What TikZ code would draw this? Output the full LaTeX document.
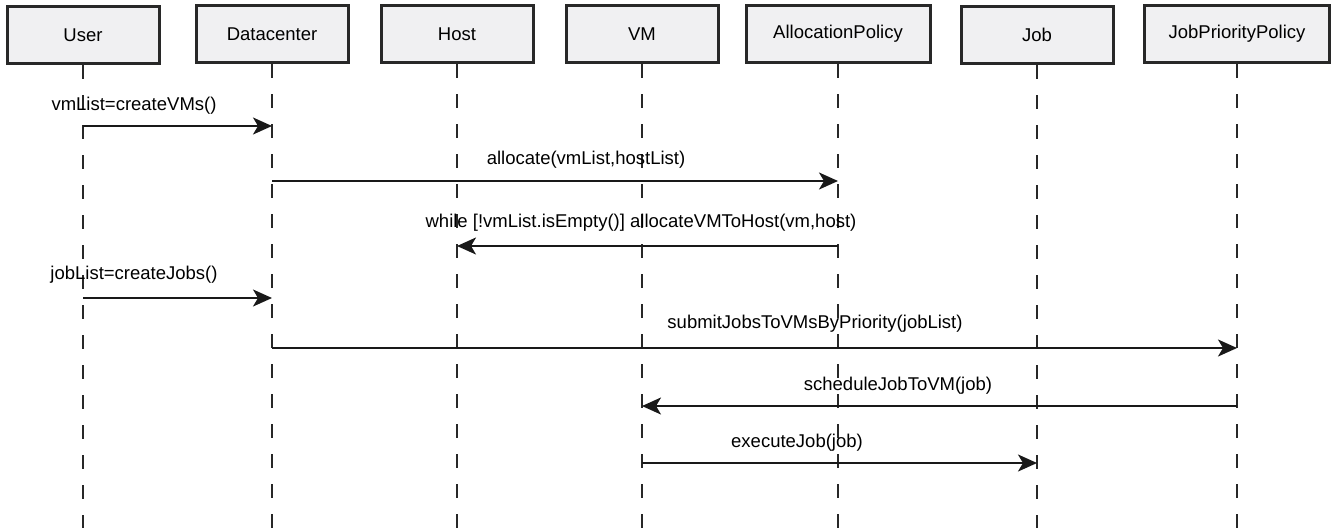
\documentclass[tikz,border=0pt]{standalone}
\usepackage{fontspec}
\setmainfont{Liberation Sans}
\usetikzlibrary{arrows.meta, positioning}

\definecolor{boxfill}{RGB}{240,240,242}
\definecolor{linegray}{RGB}{40,40,40}

\begin{document}
\begin{tikzpicture}[x=1pt, y=-1pt,
    actor/.style={draw=linegray, line width=3pt, fill=boxfill, minimum width=152pt,
        minimum height=57pt, inner sep=0pt, font=\fontsize{18.5}{20}\selectfont},
    lifeline/.style={draw=linegray, line width=1.4pt, dash pattern=on 14pt off 16pt},
    msg/.style={draw=black!90, line width=2.2pt, -{Stealth[length=19pt,width=17pt,inset=5pt]}},
    msglabel/.style={inner sep=0pt, font=\fontsize{18.5}{20}\selectfont}]
    \useasboundingbox (0,0) rectangle (1337,528);

    % objects
    \node [actor] (Nuser) at (83, 35) {User};
    \node [actor] (Ndc)   at (272, 34) {Datacenter};
    \node [actor] (Nhost) at (457, 34) {Host};
    \node [actor] (Nvm)   at (642, 34) {VM};
    \node [actor, minimum width=184pt] (Nap) at (838, 34) {AllocationPolicy};
    \node [actor] (Njob)  at (1037, 35) {Job};
    \node [actor, minimum width=185pt] (Njpp) at (1237, 34) {JobPriorityPolicy};

    % lifelines
    \coordinate (Euser) at (83, 528);
    \coordinate (Edc)   at (272, 528);
    \coordinate (Ehost) at (457, 528);
    \coordinate (Evm)   at (642, 528);
    \coordinate (Eap)   at (838, 528);
    \coordinate (Ejob)  at (1037, 528);
    \coordinate (Ejpp)  at (1237, 528);
    \draw [lifeline] (Nuser) -- (Euser);
    \draw [lifeline] (Ndc) -- (Edc);
    \draw [lifeline] (Nhost) -- (Ehost);
    \draw [lifeline] (Nvm) -- (Evm);
    \draw [lifeline] (Nap) -- (Eap);
    \draw [lifeline] (Njob) -- (Ejob);
    \draw [lifeline] (Njpp) -- (Ejpp);

    % messages
    \node [msglabel] (Lcvm) at (134, 106) {vmList=createVMs()};
    \draw [msg] (Nuser |- 0,126) -- (Ndc |- 0,126);

    \node [msglabel] (Lalloc) at (586, 160) {allocate(vmList,hostList)};
    \draw [msg] (Ndc |- 0,181) -- (Nap |- 0,181);

    \node [msglabel] (Lwhile) at (641, 223) {while [!vmList.isEmpty()] allocateVMToHost(vm,host)};
    \draw [msg] (Nap |- 0,246) -- (Nhost |- 0,246);

    \node [msglabel] (Lcjob) at (134, 275) {jobList=createJobs()};
    \draw [msg] (Nuser |- 0,298) -- (Ndc |- 0,298);

    \node [msglabel] (Lsubmit) at (815, 324) {submitJobsToVMsByPriority(jobList)};
    \draw [msg] (Ndc |- 0,348) -- (Njpp |- 0,348);

    \node [msglabel] (Lsched) at (898, 386) {scheduleJobToVM(job)};
    \draw [msg] (Njpp |- 0,406) -- (Nvm |- 0,406);

    \node [msglabel] (Lexec) at (797, 443) {executeJob(job)};
    \draw [msg] (Nvm |- 0,463) -- (Njob |- 0,463);
\end{tikzpicture}
\end{document}
